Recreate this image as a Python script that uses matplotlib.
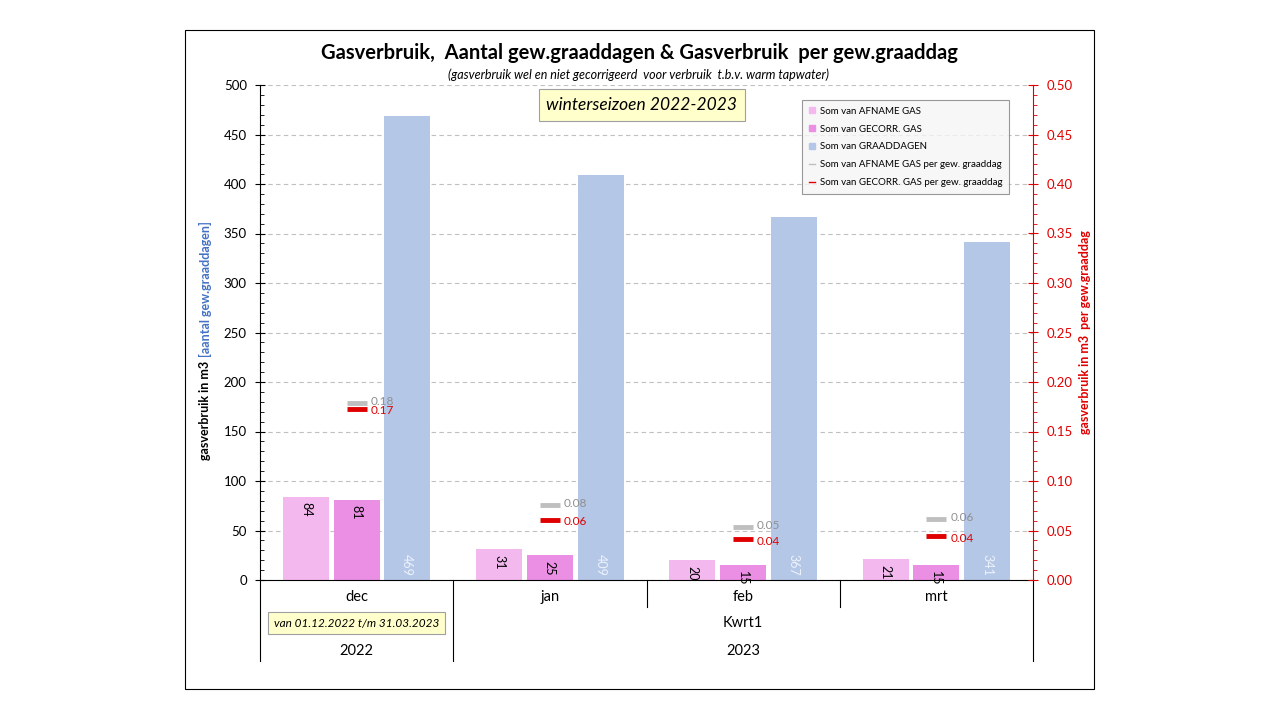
import matplotlib.pyplot as plt
from matplotlib.patches import Rectangle, Patch
from matplotlib.lines import Line2D
from matplotlib.ticker import MultipleLocator

plt.rcParams['font.family'] = ['Lato', 'DejaVu Sans']

months = ["dec", "jan", "feb", "mrt"]
years = ["2022", "2023"]
afname = [84, 31, 20, 21]
gecorr = [81, 25, 15, 15]
graaddagen = [469, 409, 367, 341]
afname_per_gd = [0.179, 0.076, 0.054, 0.062]
gecorr_per_gd = [0.173, 0.061, 0.041, 0.044]

c_afname = "#F3B8EE"
c_gecorr = "#EA8FE3"
c_gd = "#B4C7E7"
c_gray = "#BFBFBF"
c_red = "#E00000"

fig = plt.figure(figsize=(12.8, 7.2), dpi=100)
fig.add_artist(Rectangle((185 / 1280, 1 - 689 / 720), 909 / 1280, 659 / 720,
                         transform=fig.transFigure, fill=False, ec="black", lw=0.8))

ax = fig.add_axes([260 / 1280, 1 - 580 / 720, 773 / 1280, 495 / 720])
ax2 = ax.twinx()

x = list(range(len(months)))
w = 0.238
off = 0.262
b1 = ax.bar([i - off for i in x], afname, w, color=c_afname, zorder=2)
b2 = ax.bar(x, gecorr, w, color=c_gecorr, zorder=2)
b3 = ax.bar([i + off for i in x], graaddagen, w, color=c_gd, zorder=2)

for bars, vals in ((b1, afname), (b2, gecorr)):
    for r, v in zip(bars, vals):
        ax.annotate(str(v), (r.get_x() + r.get_width() / 2, v), xytext=(0, -4),
                    textcoords="offset points", ha="center", va="top",
                    rotation=-90, fontsize=9, color="black")
for r, v in zip(b3, graaddagen):
    ax.annotate(str(v), (r.get_x() + r.get_width() / 2, 0), xytext=(0, 3),
                textcoords="offset points", ha="center", va="bottom",
                rotation=-90, fontsize=9, color="#EEF2FA")

ax.set_ylim(0, 500)
ax.set_xlim(-0.5, 3.5)
ax.yaxis.set_major_locator(MultipleLocator(50))
ax.yaxis.set_minor_locator(MultipleLocator(10))
ax.tick_params(axis="y", which="major", direction="inout", length=7, labelsize=9.5, pad=6)
ax.tick_params(axis="y", which="minor", direction="in", length=3)
ax.tick_params(axis="x", length=0, labelbottom=False)
ax.grid(axis="y", color="#C0C0C0", ls=(0, (4, 3)), lw=0.8, zorder=0)
ax.set_axisbelow(True)
for s in ("top", "right"):
    ax.spines[s].set_visible(False)

ax2.plot(x, afname_per_gd, ls="none", marker="_", ms=14.5, mew=3.5, color=c_gray, zorder=3)
ax2.plot(x, gecorr_per_gd, ls="none", marker="_", ms=14.5, mew=3.5, color=c_red, zorder=3)
for i in x:
    ax2.annotate(f"{afname_per_gd[i]:.2f}", (i, afname_per_gd[i]), xytext=(10, 1),
                 textcoords="offset points", va="center", ha="left", fontsize=8.5, color="#909090")
    ax2.annotate(f"{gecorr_per_gd[i]:.2f}", (i, gecorr_per_gd[i]), xytext=(10, -1.5),
                 textcoords="offset points", va="center", ha="left", fontsize=8.5, color=c_red)
ax2.set_ylim(0, 0.5)
ax2.yaxis.set_major_locator(MultipleLocator(0.05))
ax2.yaxis.set_minor_locator(MultipleLocator(0.01))
ax2.yaxis.set_major_formatter(lambda v, p: f"{v:.2f}")
ax2.tick_params(axis="y", which="major", direction="inout", length=7, labelsize=9.5,
                colors=c_red, pad=6)
ax2.tick_params(axis="y", which="minor", direction="out", length=3, colors=c_red)
ax2.spines["right"].set_color(c_red)
for s in ("top", "left", "bottom"):
    ax2.spines[s].set_visible(False)

# multi-level category axis
tr = ax.get_xaxis_transform()
for xv, y0 in ((-0.5, -0.1636), (0.5, -0.1636), (1.5, -0.0545), (2.5, -0.0545), (3.5, -0.1636)):
    ax.plot([xv, xv], [0, y0], color="black", lw=0.8, transform=tr, clip_on=False)
for i, m in enumerate(months):
    ax.text(i, -0.0343, m, transform=tr, ha="center", va="center", fontsize=10.5)
ax.text(2, -0.0869, "Kwrt1", transform=tr, ha="center", va="center", fontsize=10.5)
ax.text(0, -0.1434, years[0], transform=tr, ha="center", va="center", fontsize=10.5)
ax.text(2, -0.1434, years[1], transform=tr, ha="center", va="center", fontsize=10.5)
ax.text(0, -0.0869, "van 01.12.2022 t/m 31.03.2023", transform=tr, ha="center",
        va="center", fontsize=8.5, style="italic",
        bbox=dict(boxstyle="square,pad=0.5", fc="#FFFFCC", ec="#A0A0A0", lw=0.8))

# titles
fig.text(639 / 1280, 1 - 53 / 720,
         "Gasverbruik,  Aantal gew.graaddagen & Gasverbruik  per gew.graaddag",
         ha="center", va="center", fontsize=14.5, fontweight="bold")
fig.text(639 / 1280, 1 - 75 / 720,
         "(gasverbruik wel en niet gecorrigeerd  voor verbruik  t.b.v. warm tapwater)",
         ha="center", va="center", fontsize=9, style="italic")
fig.text(642 / 1280, 1 - 105 / 720, "winterseizoen 2022-2023", ha="center", va="center",
         fontsize=12.5, style="italic",
         bbox=dict(boxstyle="square,pad=0.45", fc="#FFFFCC", ec="#A0A0A0", lw=0.8))

# axis labels
t1 = fig.text(205 / 1280, 1 - 460 / 720, "gasverbruik in m3", rotation=90, ha="center",
              va="bottom", fontsize=9, fontweight="bold")
fig.add_artist(plt.Annotation("[aantal gew.graaddagen]", xy=(0.5, 1), xycoords=t1,
                              xytext=(0, 3), textcoords="offset points", rotation=90,
                              ha="center", va="bottom", fontsize=9, fontweight="bold",
                              color="#4472C4"))
fig.text(1085 / 1280, 1 - 332 / 720, "gasverbruik in m3  per gew.graaddag", rotation=90,
         ha="center", va="center", fontsize=9, fontweight="bold", color=c_red)

handles = [
    Patch(color=c_afname, label="Som van AFNAME GAS"),
    Patch(color=c_gecorr, label="Som van GECORR. GAS"),
    Patch(color=c_gd, label="Som van GRAADDAGEN"),
    Line2D([], [], color=c_gray, lw=1, label="Som van AFNAME GAS per gew. graaddag"),
    Line2D([], [], color=c_red, lw=1, label="Som van GECORR. GAS per gew. graaddag"),
]
leg = ax2.legend(handles=handles, loc="upper left", bbox_to_anchor=(802 / 1280, 1 - 100 / 720),
                 bbox_transform=fig.transFigure, fontsize=7, frameon=True, fancybox=False,
                 handlelength=0.6, handleheight=0.6, handletextpad=0.5, labelspacing=0.9,
                 borderpad=0.7, borderaxespad=0)
leg.get_frame().set_facecolor("#F5F5F5")
leg.get_frame().set_edgecolor("#808080")
leg.get_frame().set_linewidth(0.8)

fig.savefig("out.png", dpi=100)
